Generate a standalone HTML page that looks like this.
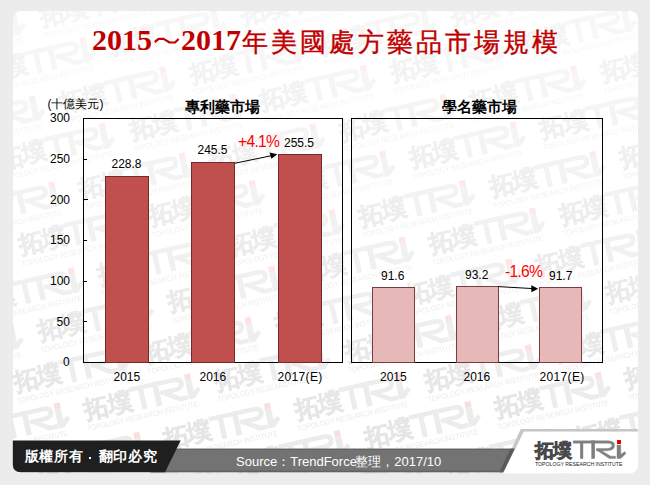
<!DOCTYPE html>
<html lang="zh-Hant">
<head>
<meta charset="utf-8">
<style>
html,body{margin:0;padding:0;}
body{width:650px;height:485px;background:#ececec;position:relative;overflow:hidden;font-family:"Liberation Sans",sans-serif;}
.panel{position:absolute;left:12.8px;top:11px;width:625px;height:462.4px;background:#fff;border-radius:8px;overflow:hidden;}
.t{position:absolute;white-space:nowrap;line-height:1;}
.title{top:25px;letter-spacing:0px;font-family:"Liberation Serif",serif;font-weight:bold;font-size:30px;color:#c00000;}
.title.cj{font-size:26px;font-weight:500;-webkit-text-stroke:0.4px #c00000;letter-spacing:3px;top:30px;}
.lbl{font-size:12px;color:#000;}
.ct{font-size:14.5px;font-weight:bold;color:#000;}
.pct{font-size:15.6px;color:#ff0000;letter-spacing:-0.7px;}
svg{position:absolute;left:0;top:0;}
</style>
</head>
<body>
<div class="panel"></div>
<svg width="650" height="485" viewBox="0 0 650 485">
<defs>
<g id="logo">
  <text x="534.5" y="456.5" font-size="19" font-weight="900" fill="#484848" stroke="#484848" stroke-width="0.7" letter-spacing="-1">拓墣</text>
  <g fill="#808080" stroke="#808080" stroke-width="0.4">
    <path d="M573.2,440.8 L608.5,440.8 Q614.6,441 614.6,445.6 Q614.2,450.8 607,450.8 L596.5,450.8 L596.5,448.5 L606.5,448.5 Q611.9,448.3 611.9,445.6 Q611.9,443.2 608.3,443.2 L573.2,443.2 Z"/>
    <rect x="580.2" y="443" width="2.8" height="15.6"/>
    <rect x="591.6" y="440.8" width="3.2" height="17.8"/>
    <polygon points="596.2,449.8 600,449.8 610.8,456.2 615.6,456.2 615.4,458.6 609.2,458.6"/>
    <path d="M617,445 L620.8,445 L620.8,454.6 L624.6,451.6 L626,453.4 L620.8,458.6 L617,458.6 Z"/>
  </g>
  <rect x="617" y="440" width="4" height="4" fill="#e00000"/>
  <text x="535" y="466" font-size="6.2" fill="#222" textLength="87.4" lengthAdjust="spacingAndGlyphs">TOPOLOGY RESEARCH INSTITUTE</text>
</g>
<g id="wm"><g transform="rotate(-12.59) scale(1.3) translate(-619,-442)">
  <text x="536" y="456.5" font-size="19" font-weight="bold" fill="#3a3a3a" stroke="#3a3a3a" stroke-width="0.5" letter-spacing="-1">拓墣</text>
  <g fill="#6a6a6a" stroke="#6a6a6a" stroke-width="1.1" stroke-linejoin="round">
    <path d="M573.2,440.8 L608.5,440.8 Q614.6,441 614.6,445.6 Q614.2,450.8 607,450.8 L596.5,450.8 L596.5,448.5 L606.5,448.5 Q611.9,448.3 611.9,445.6 Q611.9,443.2 608.3,443.2 L573.2,443.2 Z"/>
    <rect x="580.2" y="443" width="2.8" height="15.6"/>
    <rect x="591.6" y="440.8" width="3.2" height="17.8"/>
    <polygon points="596.2,449.8 600,449.8 610.8,456.2 615.6,456.2 615.4,458.6 609.2,458.6"/>
    <path d="M617,445 L620.8,445 L620.8,454.6 L624.6,451.6 L626,453.4 L620.8,458.6 L617,458.6 Z"/>
  </g>
  <rect x="616.6" y="439.6" width="4.8" height="4.8" fill="#e00000"/>
  <text x="535" y="466" font-size="6" fill="#555" textLength="87.4" lengthAdjust="spacingAndGlyphs">TOPOLOGY RESEARCH INSTITUTE</text>
</g></g>
<linearGradient id="wg" gradientUnits="userSpaceOnUse" x1="0" y1="11" x2="0" y2="474">
  <stop offset="0" stop-color="#fff" stop-opacity="0.05"/>
  <stop offset="1" stop-color="#fff" stop-opacity="0.14"/>
</linearGradient>
<mask id="wmask" maskUnits="userSpaceOnUse" x="0" y="0" width="650" height="485"><rect x="0" y="0" width="650" height="485" fill="url(#wg)"/></mask>
<clipPath id="pclip"><rect x="12.8" y="11" width="625" height="462.4" rx="8"/></clipPath>
</defs>
<g clip-path="url(#pclip)"><g mask="url(#wmask)">
<use href="#wm" transform="translate(13.0,13.3)"/>
<use href="#wm" transform="translate(143.4,-15.8)"/>
<use href="#wm" transform="translate(83.0,40.7)"/>
<use href="#wm" transform="translate(213.5,11.6)"/>
<use href="#wm" transform="translate(343.9,-17.5)"/>
<use href="#wm" transform="translate(32.4,99.2)"/>
<use href="#wm" transform="translate(162.8,70.1)"/>
<use href="#wm" transform="translate(293.3,40.9)"/>
<use href="#wm" transform="translate(423.7,11.8)"/>
<use href="#wm" transform="translate(554.2,-17.3)"/>
<use href="#wm" transform="translate(102.4,126.6)"/>
<use href="#wm" transform="translate(232.9,97.5)"/>
<use href="#wm" transform="translate(363.3,68.4)"/>
<use href="#wm" transform="translate(493.8,39.2)"/>
<use href="#wm" transform="translate(624.2,10.1)"/>
<use href="#wm" transform="translate(754.6,-19.0)"/>
<use href="#wm" transform="translate(51.8,185.1)"/>
<use href="#wm" transform="translate(182.2,156.0)"/>
<use href="#wm" transform="translate(312.7,126.8)"/>
<use href="#wm" transform="translate(443.1,97.7)"/>
<use href="#wm" transform="translate(573.6,68.6)"/>
<use href="#wm" transform="translate(704.0,39.5)"/>
<use href="#wm" transform="translate(121.8,212.5)"/>
<use href="#wm" transform="translate(252.3,183.4)"/>
<use href="#wm" transform="translate(382.7,154.3)"/>
<use href="#wm" transform="translate(513.1,125.2)"/>
<use href="#wm" transform="translate(643.6,96.0)"/>
<use href="#wm" transform="translate(71.2,271.0)"/>
<use href="#wm" transform="translate(201.6,241.9)"/>
<use href="#wm" transform="translate(332.1,212.8)"/>
<use href="#wm" transform="translate(462.5,183.6)"/>
<use href="#wm" transform="translate(593.0,154.5)"/>
<use href="#wm" transform="translate(723.4,125.4)"/>
<use href="#wm" transform="translate(10.8,327.6)"/>
<use href="#wm" transform="translate(141.2,298.5)"/>
<use href="#wm" transform="translate(271.7,269.3)"/>
<use href="#wm" transform="translate(402.1,240.2)"/>
<use href="#wm" transform="translate(532.5,211.1)"/>
<use href="#wm" transform="translate(663.0,181.9)"/>
<use href="#wm" transform="translate(117.5,349.5)"/>
<use href="#wm" transform="translate(248.0,320.3)"/>
<use href="#wm" transform="translate(378.4,291.2)"/>
<use href="#wm" transform="translate(508.9,262.1)"/>
<use href="#wm" transform="translate(639.3,232.9)"/>
<use href="#wm" transform="translate(57.1,406.0)"/>
<use href="#wm" transform="translate(187.6,376.9)"/>
<use href="#wm" transform="translate(318.0,347.8)"/>
<use href="#wm" transform="translate(448.4,318.6)"/>
<use href="#wm" transform="translate(578.9,289.5)"/>
<use href="#wm" transform="translate(709.3,260.4)"/>
<use href="#wm" transform="translate(6.5,464.5)"/>
<use href="#wm" transform="translate(136.9,435.4)"/>
<use href="#wm" transform="translate(267.4,406.2)"/>
<use href="#wm" transform="translate(397.8,377.1)"/>
<use href="#wm" transform="translate(528.3,348.0)"/>
<use href="#wm" transform="translate(658.7,318.9)"/>
<use href="#wm" transform="translate(76.5,491.9)"/>
<use href="#wm" transform="translate(207.0,462.8)"/>
<use href="#wm" transform="translate(337.4,433.7)"/>
<use href="#wm" transform="translate(467.9,404.6)"/>
<use href="#wm" transform="translate(598.3,375.4)"/>
<use href="#wm" transform="translate(728.7,346.3)"/>
<use href="#wm" transform="translate(286.8,492.1)"/>
<use href="#wm" transform="translate(417.2,463.0)"/>
<use href="#wm" transform="translate(547.7,433.9)"/>
<use href="#wm" transform="translate(678.1,404.8)"/>
<use href="#wm" transform="translate(487.2,490.5)"/>
<use href="#wm" transform="translate(617.7,461.3)"/>
<use href="#wm" transform="translate(748.1,432.2)"/>
<use href="#wm" transform="translate(697.5,490.7)"/>
</g>
<polygon points="523.8,431.6 640,431.6 640,480 500,480" fill="#fff"/>
</g>
</svg>

<div class="t title" style="left:92px;">2015</div>
<div class="t title" style="left:181px;">2017</div>
<svg style="position:absolute;left:0;top:0;" width="650" height="60"><path d="M154.8,42.2 L158.6,38.9 L163.6,38.9 L169.6,42.5 L175,42.5 L178.6,39" stroke="#c00000" stroke-width="2.2" fill="none" stroke-linejoin="round"/></svg>
<div class="t title cj" style="left:242px;">年美國處方藥品市場規模</div>

<svg width="650" height="485" viewBox="0 0 650 485">
  <!-- left chart frame -->
  <g shape-rendering="crispEdges" stroke="#000" stroke-width="1" fill="none">
    <rect x="83.5" y="118.5" width="259" height="243.5"/>
    <rect x="351.5" y="118.5" width="251" height="243.5"/>
  </g>
  <!-- ticks left chart -->
  <g shape-rendering="crispEdges" stroke="#000" stroke-width="1">
    <line x1="84" y1="159.5" x2="87" y2="159.5"/>
    <line x1="84" y1="199.5" x2="87.5" y2="199.5"/>
    <line x1="84" y1="240.5" x2="87" y2="240.5"/>
    <line x1="84" y1="281.5" x2="87" y2="281.5"/>
    <line x1="84" y1="321.5" x2="87" y2="321.5"/>
  </g>
  <!-- left bars -->
  <g fill="#c0504d" stroke="#76292a" stroke-width="1" shape-rendering="crispEdges">
    <rect x="105.5" y="176.5" width="43" height="185.5"/>
    <rect x="191.5" y="162.5" width="43" height="199.5"/>
    <rect x="278.5" y="154.5" width="43" height="207.5"/>
  </g>
  <!-- right bars -->
  <g fill="#e6b9b8" stroke="#7a3c3c" stroke-width="1" shape-rendering="crispEdges">
    <rect x="372.5" y="287.5" width="42" height="74.5"/>
    <rect x="456.5" y="286.5" width="42" height="75.5"/>
    <rect x="539.5" y="287.5" width="42" height="74.5"/>
  </g>
  <!-- arrows -->
  <g stroke="#000" stroke-width="1" fill="none">
    <line x1="235" y1="163.2" x2="271" y2="155.8"/>
    <line x1="498" y1="286.6" x2="533" y2="288.6"/>
  </g>
  <polygon points="277.4,154.3 269.6,152.6 271.4,158.8" fill="#000"/>
  <polygon points="538.2,288.8 531.3,285.2 531.3,292.2" fill="#000"/>
</svg>

<!-- y axis labels -->
<div class="t lbl" style="left:47.5px;top:97.5px;">(十億美元)</div>
<div class="t lbl" style="left:50px;top:112px;">300</div>
<div class="t lbl" style="left:50px;top:153px;">250</div>
<div class="t lbl" style="left:50px;top:194px;">200</div>
<div class="t lbl" style="left:50px;top:234px;">150</div>
<div class="t lbl" style="left:50px;top:275px;">100</div>
<div class="t lbl" style="left:56.5px;top:316px;">50</div>
<div class="t lbl" style="left:63px;top:356px;">0</div>

<div class="t ct" style="left:185px;top:99.5px;">專利藥市場</div>
<div class="t ct" style="left:441.5px;top:99.5px;">學名藥市場</div>

<!-- data labels -->
<div class="t lbl" style="left:111.5px;top:158px;">228.8</div>
<div class="t lbl" style="left:197.5px;top:144px;">245.5</div>
<div class="t lbl" style="left:284px;top:137px;">255.5</div>
<div class="t pct" style="left:238px;top:133.5px;">+4.1%</div>

<div class="t lbl" style="left:381px;top:270px;">91.6</div>
<div class="t lbl" style="left:465px;top:269px;">93.2</div>
<div class="t lbl" style="left:549px;top:270px;">91.7</div>
<div class="t pct" style="left:505px;top:264px;">-1.6%</div>

<!-- x labels -->
<div class="t lbl" style="left:113.5px;top:371px;">2015</div>
<div class="t lbl" style="left:199.5px;top:371px;">2016</div>
<div class="t lbl" style="left:277.5px;top:371px;letter-spacing:0.35px;">2017(E)</div>
<div class="t lbl" style="left:380px;top:371px;">2015</div>
<div class="t lbl" style="left:463.5px;top:371px;">2016</div>
<div class="t lbl" style="left:539.5px;top:371px;letter-spacing:0.35px;">2017(E)</div>

<!-- footer -->
<svg width="650" height="485" viewBox="0 0 650 485">
  <polygon points="520.8,429 637.8,429 637.8,431.6 523.8,431.6 503.8,472.2 500.8,472.2" fill="#c6c6c6"/>
  <polygon points="160,448.7 514.6,448.7 503.2,472.2 150,472.2" fill="#737373"/>
  <rect x="160" y="448.7" width="354" height="1.3" fill="#646464"/>
  <polygon points="510.6,448.7 514.6,448.7 503.2,472.2 499.2,472.2" fill="#595959"/>
  <rect x="150" y="470.6" width="353" height="1.6" fill="#626262"/>
  <path d="M12.8,440.5 L180.7,440.5 L165,472.2 L20.8,472.2 Q12.8,472.2 12.8,464.2 Z" fill="#1f1f1f"/>
</svg>
<div class="t" style="left:24.5px;top:450.2px;font-size:13.6px;font-weight:bold;color:#fff;letter-spacing:0.8px;">版權所有</div>
<div style="position:absolute;left:89px;top:456.5px;width:2px;height:2px;background:#fff;"></div>
<div class="t" style="left:98.5px;top:450.2px;font-size:13.6px;font-weight:bold;color:#fff;letter-spacing:0.8px;">翻印必究</div>
<div class="t" style="left:236px;top:455px;font-size:13px;color:#fff;">Source：TrendForce<span style="margin-left:-1.6px">整理，2017/10</span></div>

<!-- logo -->
<svg width="650" height="485" viewBox="0 0 650 485">
  <use href="#logo"/>
</svg>
</body>
</html>
